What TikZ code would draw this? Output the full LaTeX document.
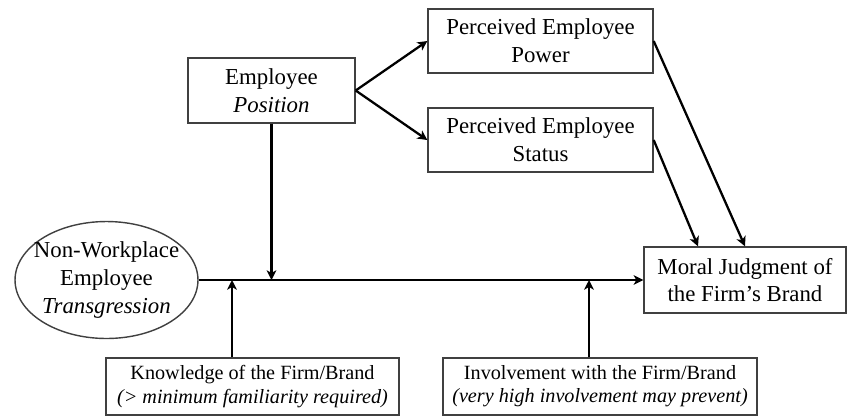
\documentclass[tikz,border=0pt]{standalone}
\usepackage{fontspec}
\setmainfont{Liberation Serif}
\usetikzlibrary{arrows.meta,shapes.geometric}
\tikzset{
	box/.style={draw=black!75, line width=0.8pt, align=center, inner sep=0pt,
		font=\fontsize{13}{15.8}\selectfont},
	smallbox/.style={box, font=\fontsize{11.5}{13.2}\selectfont},
	oval/.style={box, ellipse, inner xsep=-5pt},
	arr/.style={-{Stealth[length=5.5pt,width=5.5pt,inset=1.5pt]}, line width=1.3pt},
}
\begin{document}
\begin{tikzpicture}[x=0.02cm, y=-0.02cm]
	\useasboundingbox (0,0) rectangle (849,417);
	% boxes
	\node[box, minimum width=3.34cm, minimum height=1.3cm] at (271.5,90.5) (pos) {Employee\\\textit{Position}};
	\node[box, minimum width=4.5cm, minimum height=1.28cm] at (540.5,41) (pow) {Perceived Employee\\Power};
	\node[box, minimum width=4.5cm, minimum height=1.28cm] at (540.5,140) (stat) {Perceived Employee\\Status};
	\node[oval, minimum width=3.66cm, minimum height=2.34cm] at (106.5,280) (trans) {Non-Workplace\\Employee\\\textit{Transgression}};
	\node[box, minimum width=4.04cm, minimum height=1.32cm] at (745,280) (mor) {Moral Judgment of\\the Firm's Brand};
	\node[smallbox, minimum width=5.86cm, minimum height=1.14cm] at (252.5,386.5) (know) {Knowledge of the Firm/Brand\\\textit{(> minimum familiarity required)}};
	\node[smallbox, minimum width=6.28cm, minimum height=1.14cm] at (600,386.5) (inv) {Involvement with the Firm/Brand\\\textit{(very high involvement may prevent)}};
	% where the moderators meet the main path
	\coordinate (kx) at (232,280);
	\coordinate (ix) at (589,280);
	% arrows
	\draw[arr] (trans) -- (mor);
	\draw[arr] (pos) -- (pos |- trans.east);
	\draw[arr] (pos.east) -- (pow.west);
	\draw[arr] (pos.east) -- (stat.west);
	\draw[arr] (pow.east) -- (mor.north);
	\draw[arr] (stat.east) -- ([xshift=-0.94cm]mor.north);
	\draw[arr] (know.north -| kx) -- (kx);
	\draw[arr] (inv.north -| ix) -- (ix);
\end{tikzpicture}
\end{document}
